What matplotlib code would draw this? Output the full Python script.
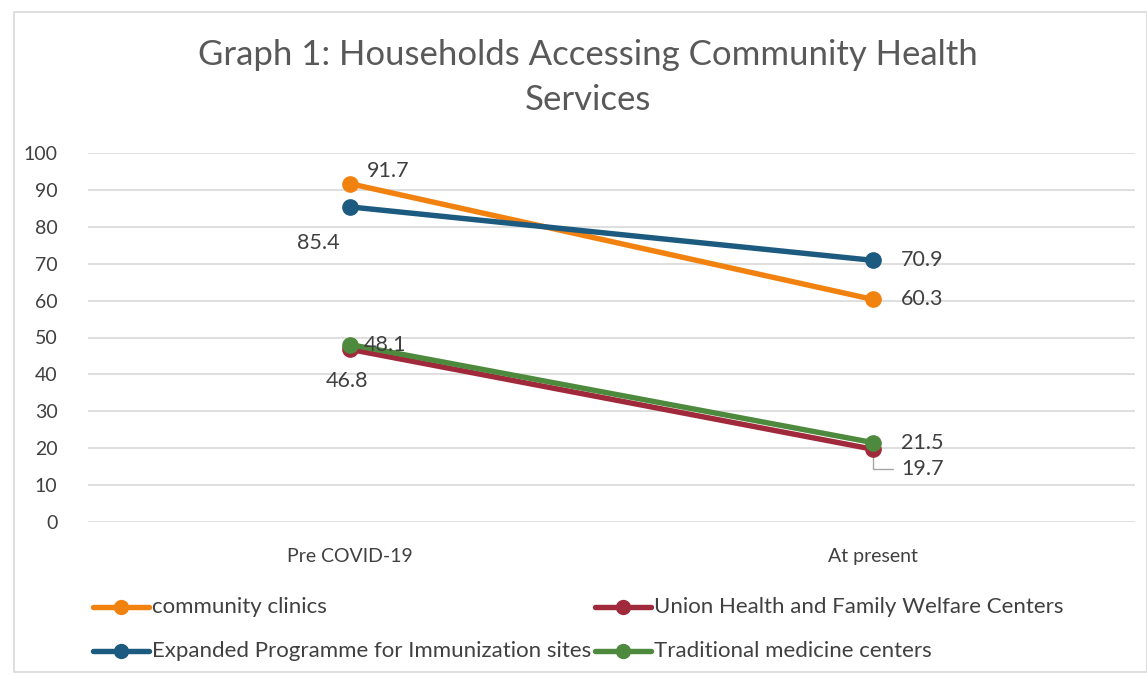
import matplotlib.pyplot as plt
from matplotlib.lines import Line2D

categories = ["Pre COVID-19", "At present"]
series_names = [
    "community clinics",
    "Union Health and Family Welfare Centers",
    "Expanded Programme for Immunization sites",
    "Traditional medicine centers",
]
community_clinics = [91.7, 60.3]
union_health = [46.8, 19.7]
epi_sites = [85.4, 70.9]
traditional_medicine = [48.1, 21.5]
yticks = [0, 10, 20, 30, 40, 50, 60, 70, 80, 90, 100]

colors = ["#F2820F", "#A02A3B", "#1C5A7F", "#4E8A3E"]
series_values = [community_clinics, union_health, epi_sites, traditional_medicine]

plt.rcParams["font.family"] = ["Lato", "DejaVu Sans"]
text_color = "#404040"

fig = plt.figure(figsize=(11.47, 6.75), dpi=100)
ax = fig.add_axes([88 / 1147, 1 - 522 / 675, (1135 - 88) / 1147, (522 - 153) / 675])

x = list(range(len(categories)))
for vals, col in zip(series_values, colors):
    ax.plot(x, vals, color=col, lw=3.9, marker="o", ms=11, solid_capstyle="round", zorder=3)

ax.set_xlim(-0.5, 1.5)
ax.set_ylim(0, 100)
ax.set_yticks(yticks)
ax.set_xticks(x)
ax.set_xticklabels(categories)
ax.grid(axis="y", color="#D9D9D9", lw=1.2)
ax.set_axisbelow(True)
for s in ax.spines.values():
    s.set_visible(False)
ax.tick_params(length=0, labelsize=14, colors=text_color)
ax.tick_params(axis="y", pad=22)
ax.tick_params(axis="x", pad=19)

lab_kw = dict(fontsize=15.5, color=text_color, zorder=4)
# data labels, offset in points from each marker
offsets = {
    (0, 0): (12, 9, "left", "center"),
    (0, 1): (-2, -23, "center", "center"),
    (0, 2): (-7, -26, "right", "center"),
    (0, 3): (10, 0, "left", "center"),
    (1, 0): (20, 0, "left", "center"),
    (1, 1): (20, -14, "left", "center"),
    (1, 2): (20, 0, "left", "center"),
    (1, 3): (20, 0, "left", "center"),
}
for si, vals in enumerate(series_values):
    for xi, v in enumerate(vals):
        dx, dy, ha, va = offsets[(xi, si)]
        ax.annotate(f"{v:.1f}", (xi, v), xytext=(dx, dy), textcoords="offset points",
                    ha=ha, va=va, **lab_kw)

# leader line for the lower label at the right-hand point
ax.annotate("", (1, union_health[1]), xytext=(16, -14), textcoords="offset points",
            arrowprops=dict(arrowstyle="-", color="#A6A6A6", lw=1,
                            connectionstyle="angle,angleA=0,angleB=90,rad=0"),
            zorder=2)

fig.text(588 / 1147, 1 - 55 / 675, "Graph 1: Households Accessing Community Health",
         ha="center", va="center", fontsize=25, color="#595959")
fig.text(588 / 1147, 1 - 100 / 675, "Services",
         ha="center", va="center", fontsize=25, color="#595959")

# legend in two columns below the axes
legend_pos = [(93, 607), (595, 607), (93, 651), (595, 651)]
for (lx, ly), name, col in zip(legend_pos, series_names, colors):
    fx0, fx1 = lx / 1147, (lx + 56) / 1147
    fy = 1 - ly / 675
    fig.add_artist(Line2D([fx0, fx1], [fy, fy], color=col, lw=3.9, solid_capstyle="round",
                          transform=fig.transFigure))
    fig.add_artist(Line2D([(fx0 + fx1) / 2], [fy], color=col, marker="o", ms=10,
                          transform=fig.transFigure))
    fig.text((lx + 59) / 1147, fy, name, ha="left", va="center", fontsize=16,
             color=text_color)

# chart frame
fig.add_artist(plt.Rectangle((14 / 1147, 0.005), 1 - 14 / 1147, 1 - 12 / 675 - 0.005,
                             fill=False, ec="#D9D9D9", lw=1.2, transform=fig.transFigure))

fig.savefig("out.png", dpi=100, facecolor="white")
